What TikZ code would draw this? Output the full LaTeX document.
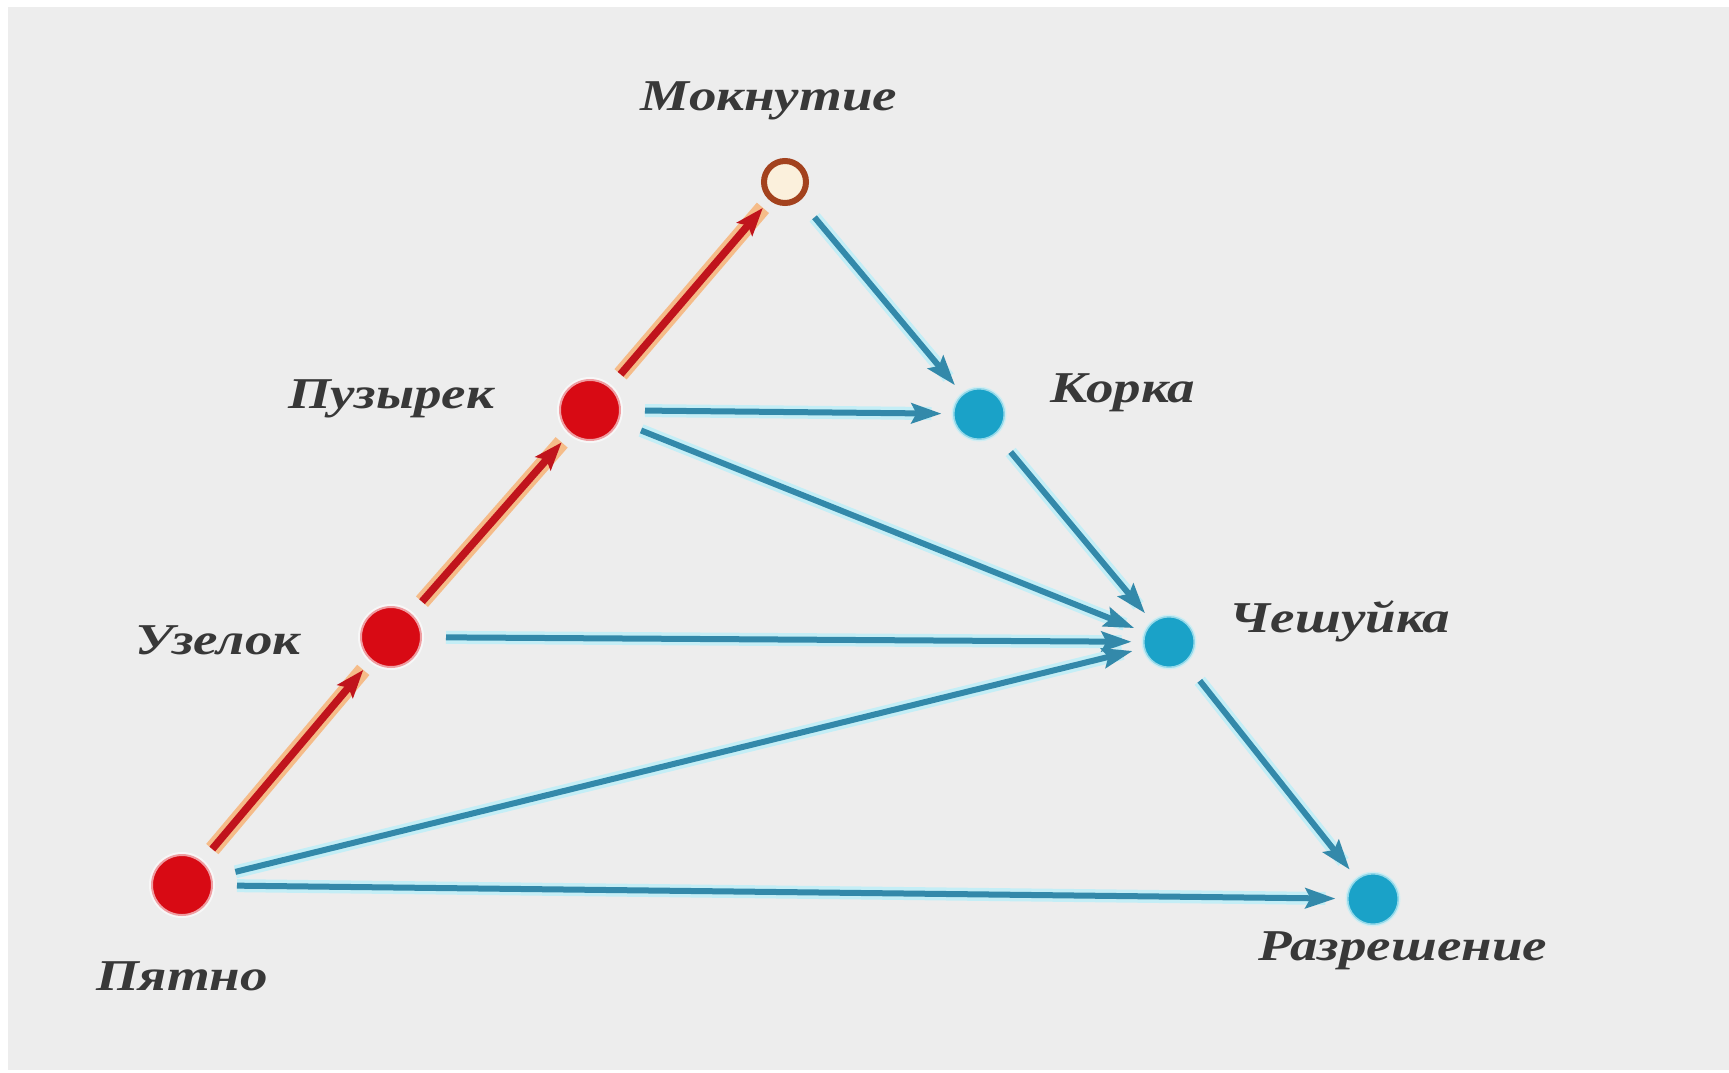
\documentclass[tikz,border=0pt]{standalone}
\usepackage{fontspec}
\setmainfont{Liberation Serif}
\newfontfamily\labfont[FakeStretch=1.25]{Liberation Serif}
\usetikzlibrary{arrows.meta}
\definecolor{bgc}{HTML}{EDEDED}
\definecolor{cyanN}{HTML}{1AA2C8}
\definecolor{blueA}{HTML}{3389AA}
\definecolor{blueG}{HTML}{C4EEF6}
\definecolor{redN}{HTML}{D80A14}
\definecolor{redA}{HTML}{C0141C}
\definecolor{redG}{HTML}{F8B070}
\definecolor{ringC}{HTML}{A3421E}
\definecolor{ringF}{HTML}{FBF0DC}
\definecolor{txt}{HTML}{383838}
\tikzset{
  redNode/.style={circle, fill=redN, minimum size=62pt, inner sep=0pt, draw=white, draw opacity=0.6, line width=4pt},
  cyanNode/.style={circle, fill=cyanN, minimum size=52pt, inner sep=0pt, draw=blueG, draw opacity=0.7, line width=3pt},
  ringNode/.style={circle, fill=ringF, draw=ringC, line width=6pt, minimum size=42pt, inner sep=0pt},
  lab/.style={font=\labfont\fontsize{44}{48}\selectfont\bfseries\itshape, text=txt, inner sep=0pt},
  blueArr/.style={draw=blueA, line width=6pt, -{Stealth[length=30pt,width=20pt,inset=5pt]}, shorten <=22pt, shorten >=10pt,
     preaction={draw=blueG, line width=13pt, -, shorten <=22pt, shorten >=20pt}},
  redArr/.style={draw=redA, line width=7.5pt, -{Stealth[length=28pt,width=20pt,inset=5pt]}, shorten <=14pt, shorten >=10pt,
     preaction={draw=redG, draw opacity=0.8, line width=16pt, -, shorten <=14pt, shorten >=10pt}},
}
\begin{document}
\begin{tikzpicture}[x=1pt,y=-1pt]
\fill[white] (0,0) rectangle (1729,1072);
\fill[bgc] (8,7) rectangle (1729,1070);
\useasboundingbox (0,0) rectangle (1729,1072);
% nodes
\node[ringNode] (mok) at (785,182) {};
\node[redNode] (puz) at (590,410) {};
\node[cyanNode] (kor) at (979,414) {};
\node[redNode] (uzl) at (391,637) {};
\node[cyanNode] (ches) at (1169,642) {};
\node[redNode] (pyat) at (182,885) {};
\node[cyanNode] (raz) at (1373,899) {};
% labels
\node[lab] (lmok) at (769,101) {Мокнутие};
\node[lab] (lpuz) at (391,399) {Пузырек};
\node[lab] (lkor) at (1123,393) {Корка};
\node[lab] (luzl) at (218,640) {Узелок};
\node[lab] (lches) at (1340,621) {Чешуйка};
\node[lab] (lpyat) at (182,976) {Пятно};
\node[lab] (lraz) at (1403,951) {Разрешение};
% red arrows
\draw[redArr] (pyat) -- (uzl);
\draw[redArr] (uzl) -- (puz);
\draw[redArr] (puz) -- (mok);
% blue arrows
\draw[blueArr] (mok) -- (kor);
\draw[blueArr] (puz) -- (kor);
\draw[blueArr] (puz) -- (ches);
\draw[blueArr] (kor) -- (ches);
\draw[blueArr] (uzl) -- (ches);
\draw[blueArr] (pyat) -- (ches);
\draw[blueArr] (pyat) -- (raz);
\draw[blueArr] (ches) -- (raz);
\end{tikzpicture}
\end{document}
